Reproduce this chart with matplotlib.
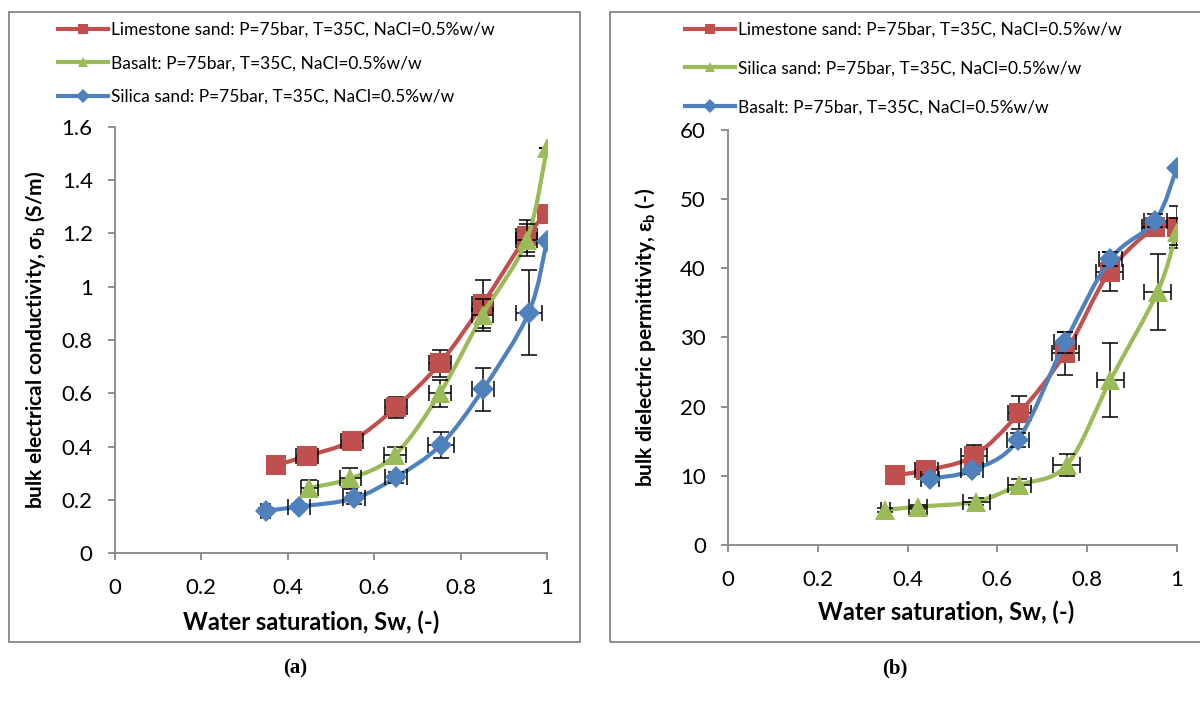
import numpy as np
import matplotlib
matplotlib.use('Agg')
import matplotlib.pyplot as plt
from matplotlib.path import Path
from matplotlib.patches import PathPatch, Rectangle
from matplotlib.lines import Line2D

plt.rcParams['font.family'] = ['Lato', 'DejaVu Sans']
plt.rcParams['mathtext.fontset'] = 'custom'
plt.rcParams['mathtext.rm'] = 'Lato'
plt.rcParams['mathtext.bf'] = 'Lato:bold'

RED = '#C0504D'
GREEN = '#9BBB59'
BLUE = '#4F81BD'
SPINE = '#868686'

LEGEND_SUFFIX = ': P=75bar, T=35C, NaCl=0.5%w/w'

# ---- panel (a): bulk electrical conductivity (S/m)
a_lime_sw = [0.372, 0.444, 0.549, 0.650, 0.752, 0.851, 0.953, 1.0]
a_lime_val = [0.33, 0.364, 0.422, 0.547, 0.712, 0.935, 1.19, 1.273]
a_lime_yerr = [0.02, 0.02, 0.02, 0.04, 0.05, 0.09, 0.06, 0.0]
a_lime_xerr = [0.02, 0.025, 0.025, 0.025, 0.025, 0.025, 0.025, 0.0]

a_bas_sw = [0.45, 0.545, 0.648, 0.752, 0.851, 0.953, 1.0]
a_bas_val = [0.245, 0.28, 0.368, 0.60, 0.894, 1.176, 1.52]
a_bas_yerr = [0.03, 0.04, 0.03, 0.05, 0.06, 0.06, 0.0]
a_bas_xerr = [0.02, 0.025, 0.025, 0.025, 0.025, 0.025, 0.0]

a_sil_sw = [0.349, 0.426, 0.553, 0.65, 0.754, 0.852, 0.958, 1.0]
a_sil_val = [0.159, 0.174, 0.205, 0.284, 0.406, 0.615, 0.903, 1.173]
a_sil_yerr = [0.01, 0.01, 0.02, 0.02, 0.05, 0.08, 0.16, 0.0]
a_sil_xerr = [0.01, 0.025, 0.025, 0.025, 0.03, 0.025, 0.03, 0.0]

# ---- panel (b): bulk dielectric permittivity (-)
b_lime_sw = [0.372, 0.442, 0.548, 0.649, 0.751, 0.85, 0.952, 1.0]
b_lime_val = [10.1, 10.8, 12.9, 19.1, 27.7, 39.5, 45.9, 46.0]
b_lime_yerr = [0.5, 0.5, 1.6, 2.4, 3.1, 2.8, 1.0, 3.0]
b_lime_xerr = [0.02, 0.025, 0.03, 0.025, 0.03, 0.03, 0.03, 0.0]

b_sil_sw = [0.35, 0.424, 0.553, 0.649, 0.755, 0.852, 0.957, 1.0]
b_sil_val = [5.06, 5.54, 6.27, 8.67, 11.57, 23.85, 36.6, 45.3]
b_sil_yerr = [0.3, 0.3, 0.5, 0.8, 1.6, 5.3, 5.5, 2.0]
b_sil_xerr = [0.01, 0.02, 0.03, 0.025, 0.03, 0.03, 0.03, 0.0]

b_bas_sw = [0.451, 0.544, 0.646, 0.751, 0.852, 0.952, 1.0]
b_bas_val = [9.6, 10.8, 15.2, 29.3, 41.3, 46.9, 54.5]
b_bas_yerr = [0.5, 0.5, 1.0, 1.5, 1.0, 1.0, 0.0]
b_bas_xerr = [0.02, 0.025, 0.025, 0.025, 0.025, 0.025, 0.0]


def smooth_path(x, y):
    # Excel-style smoothed line: cubic Bezier segments, Catmull-Rom control points
    pts = np.column_stack([x, y])
    n = len(pts)
    verts = [pts[0]]
    codes = [Path.MOVETO]
    for i in range(n - 1):
        p0 = pts[i - 1] if i > 0 else pts[i]
        p1 = pts[i]
        p2 = pts[i + 1]
        p3 = pts[i + 2] if i + 2 < n else pts[i + 1]
        verts += [p1 + (p2 - p0) / 6.0, p2 - (p3 - p1) / 6.0, p2]
        codes += [Path.CURVE4] * 3
    return Path(verts, codes)


def draw_series(ax, x, y, xerr, yerr, color, marker, ms, z):
    # series stacked in order: line, error bars, then its own markers on top
    ax.add_patch(PathPatch(smooth_path(x, y), fill=False, edgecolor=color,
                           lw=3.0, capstyle='round', joinstyle='round', zorder=z))
    ax.errorbar(x, y, xerr=xerr, yerr=yerr, fmt='none', ecolor='black',
                elinewidth=1.1, capsize=5.5, capthick=1.1, zorder=z + 0.1)
    ax.plot(x, y, linestyle='none', marker=marker, ms=ms, color=color,
            markeredgewidth=0, zorder=z + 0.2)


def style_axes(ax, ymax, ystep, yfmt, xlabel_x):
    ax.set_xlim(0, 1)
    ax.set_ylim(0, ymax)
    ax.set_xticks(np.arange(0, 1.01, 0.2))
    ax.set_xticklabels(['0', '0.2', '0.4', '0.6', '0.8', '1'])
    yt = np.arange(0, ymax + ystep / 2, ystep)
    ax.set_yticks(yt)
    ax.set_yticklabels([yfmt(v) for v in yt])
    for s in ['top', 'right']:
        ax.spines[s].set_visible(False)
    for s in ['left', 'bottom']:
        ax.spines[s].set_color(SPINE)
        ax.spines[s].set_linewidth(1.3)
    ax.tick_params(direction='out', length=5, width=1.3, color=SPINE,
                   labelsize=16, pad=11)
    ax.tick_params(axis='x', pad=13)
    ax.set_xlabel('Water saturation, Sw, (-)', fontsize=17, fontweight='bold')
    ax.xaxis.set_label_coords(xlabel_x, -0.135)


def legend_handles(colors, markers):
    return [Line2D([], [], color=c, lw=3.0, marker=m, ms=7, markeredgewidth=0)
            for c, m in zip(colors, markers)]


fig = plt.figure(figsize=(12, 7.11), dpi=100)

# panel frames
fig.patches.append(Rectangle((0.0075, 0.097), 0.476, 0.886, transform=fig.transFigure,
                             fill=False, edgecolor=SPINE, lw=1.3))
fig.patches.append(Rectangle((0.508, 0.097), 0.6, 0.886, transform=fig.transFigure,
                             fill=False, edgecolor=SPINE, lw=1.3))

ax1 = fig.add_axes([0.0958, 0.2222, 0.36, 0.5992])
draw_series(ax1, a_lime_sw, a_lime_val, a_lime_xerr, a_lime_yerr, RED, 's', 14.5, 3)
draw_series(ax1, a_bas_sw, a_bas_val, a_bas_xerr, a_bas_yerr, GREEN, '^', 15, 4)
draw_series(ax1, a_sil_sw, a_sil_val, a_sil_xerr, a_sil_yerr, BLUE, 'D', 11, 5)
style_axes(ax1, 1.6, 0.2, lambda v: '0' if v == 0 else f'{v:g}', 0.455)
ax1.set_ylabel(r'bulk electrical conductivity, σ$_\mathbf{b}$ (S/m)', fontsize=15,
               fontweight='bold', labelpad=10)

ax2 = fig.add_axes([0.6067, 0.2335, 0.374, 0.5837])
draw_series(ax2, b_lime_sw, b_lime_val, b_lime_xerr, b_lime_yerr, RED, 's', 14.5, 3)
draw_series(ax2, b_sil_sw, b_sil_val, b_sil_xerr, b_sil_yerr, GREEN, '^', 15, 4)
draw_series(ax2, b_bas_sw, b_bas_val, b_bas_xerr, b_bas_yerr, BLUE, 'D', 11, 5)
style_axes(ax2, 60, 10, lambda v: f'{v:g}', 0.487)
ax2.set_ylabel(r'bulk dielectric permittivity, ε$_\mathbf{b}$ (-)', fontsize=15,
               fontweight='bold', labelpad=16)

fig.legend(legend_handles([RED, GREEN, BLUE], ['s', '^', 'D']),
           ['Limestone sand' + LEGEND_SUFFIX, 'Basalt' + LEGEND_SUFFIX,
            'Silica sand' + LEGEND_SUFFIX],
           loc='upper left', bbox_to_anchor=(58 / 1200, 1 - 22 / 711), frameon=False,
           fontsize=12.5, handlelength=2.9, handletextpad=0.15, labelspacing=1.0,
           borderpad=0, borderaxespad=0)
fig.legend(legend_handles([RED, GREEN, BLUE], ['s', '^', 'D']),
           ['Limestone sand' + LEGEND_SUFFIX, 'Silica sand' + LEGEND_SUFFIX,
            'Basalt' + LEGEND_SUFFIX],
           loc='upper left', bbox_to_anchor=(685 / 1200, 1 - 22 / 711), frameon=False,
           fontsize=12.5, handlelength=2.9, handletextpad=0.15, labelspacing=1.3,
           borderpad=0, borderaxespad=0)

fig.text(295 / 1200, 1 - 668 / 711, '(a)', ha='center', va='center', fontsize=15,
         fontweight='bold', family='Liberation Serif')
fig.text(895 / 1200, 1 - 668 / 711, '(b)', ha='center', va='center', fontsize=15,
         fontweight='bold', family='Liberation Serif')

fig.savefig('out.png', dpi=100)
